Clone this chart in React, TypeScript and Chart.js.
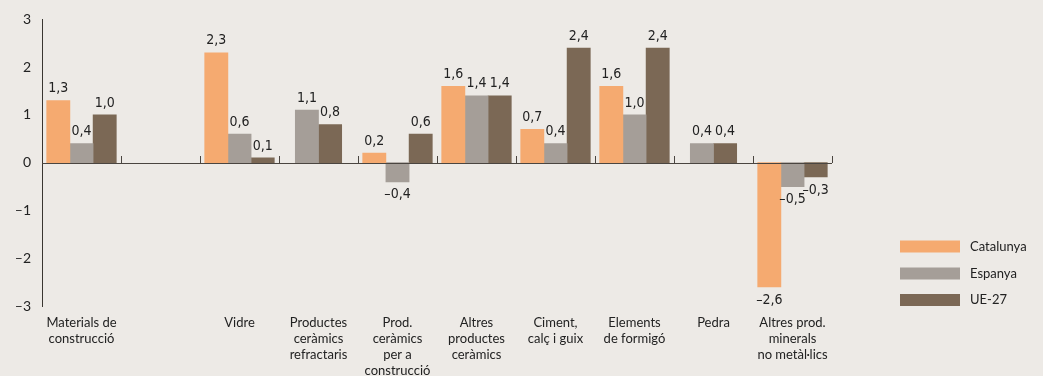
import React, { useEffect, useRef } from "react";
import { Chart, registerables } from "chart.js";
Chart.register(...registerables);

const categories: string[][] = [
  ["Materials de", "construcció"],
  [""],
  ["Vidre"],
  ["Productes", "ceràmics", "refractaris"],
  ["Prod.", "ceràmics", "per a", "construcció"],
  ["Altres", "productes", "ceràmics"],
  ["Ciment,", "calç i guix"],
  ["Elements", "de formigó"],
  ["Pedra"],
  ["Altres prod.", "minerals", "no metàl·lics"],
];
const catalunya = [1.3, null, 2.3, null, 0.2, 1.6, 0.7, 1.6, null, -2.6];
const espanya = [0.4, null, 0.6, 1.1, -0.4, 1.4, 0.4, 1.0, 0.4, -0.5];
const ue27 = [1.0, null, 0.1, 0.8, 0.6, 1.4, 2.4, 2.4, 0.4, -0.3];
const seriesNames = ["Catalunya", "Espanya", "UE-27"];
const seriesColors = ["#f5aa70", "#a59e98", "#7b6855"];

const fmt = (v: number) => v.toFixed(1).replace(".", ",").replace("-", "–");

const overlay = {
  id: "overlay",
  afterDatasetsDraw(chart: any) {
    const { ctx, chartArea, scales } = chart;
    const y0 = scales.y.getPixelForValue(0);
    ctx.save();
    ctx.strokeStyle = "#4a4540";
    ctx.lineWidth = 1;
    ctx.beginPath();
    ctx.moveTo(chartArea.left, Math.round(y0) + 0.5);
    ctx.lineTo(chartArea.right, Math.round(y0) + 0.5);
    const n = categories.length;
    const w = (chartArea.right - chartArea.left) / n;
    for (let i = 1; i <= n; i++) {
      const x = Math.round(chartArea.left + i * w) + 0.5;
      ctx.moveTo(x, Math.round(y0));
      ctx.lineTo(x, Math.round(y0) - 7);
    }
    ctx.stroke();

    ctx.fillStyle = "#222";
    ctx.font = "14px 'Liberation Sans Narrow', 'DejaVu Sans Condensed', Lato, sans-serif";
    ctx.textAlign = "center";
    chart.data.datasets.forEach((ds: any, di: number) => {
      const meta = chart.getDatasetMeta(di);
      meta.data.forEach((el: any, i: number) => {
        const v = ds.data[i];
        if (v === null || v === undefined) return;
        if (v >= 0) {
          ctx.textBaseline = "bottom";
          ctx.fillText(fmt(v), el.x, el.y - 5);
        } else {
          ctx.textBaseline = "top";
          ctx.fillText(fmt(v), el.x, el.y + 6);
        }
      });
    });

    // legend
    ctx.font = "13px Lato, sans-serif";
    ctx.textAlign = "left";
    ctx.textBaseline = "middle";
    const ys = [246.5, 273.5, 300];
    seriesNames.forEach((name, i) => {
      ctx.fillStyle = seriesColors[i];
      ctx.fillRect(900, ys[i] - 6, 60, 12);
      ctx.fillStyle = "#222";
      ctx.fillText(name, 970, ys[i]);
    });
    ctx.restore();
  },
};

export default function App() {
  const ref = useRef<HTMLCanvasElement>(null);
  useEffect(() => {
    document.body.style.margin = "0";
    const chart = new Chart(ref.current!, {
      type: "bar",
      data: {
        labels: categories as any,
        datasets: [
          { label: seriesNames[0], data: catalunya, backgroundColor: seriesColors[0] },
          { label: seriesNames[1], data: espanya, backgroundColor: seriesColors[1] },
          { label: seriesNames[2], data: ue27, backgroundColor: seriesColors[2] },
        ] as any,
      },
      options: {
        responsive: false,
        animation: false,
        layout: { padding: { left: 0, top: 19, right: 211, bottom: 0 } },
        datasets: { bar: { barThickness: 23.2, skipNull: true } },
        plugins: { legend: { display: false }, tooltip: { enabled: false } },
        scales: {
          x: {
            grid: { display: false, drawTicks: false },
            border: { display: false },
            ticks: {
              color: "#222",
              font: { family: "Lato", size: 13, lineHeight: 1.23 },
              padding: 9,
              maxRotation: 0,
              autoSkip: false,
            },
            afterFit: (s: any) => {
              s.height = 70;
            },
          },
          y: {
            min: -3,
            max: 3,
            grid: { display: false, drawTicks: false },
            border: { display: true, color: "#3a3631", width: 1 },
            ticks: {
              stepSize: 1,
              color: "#222",
              font: { family: "Lato", size: 14 },
              padding: 11,
              callback: (v: any) => String(v).replace("-", "–"),
            },
            afterFit: (s: any) => {
              s.width = 42;
            },
          },
        },
      } as any,
      plugins: [overlay],
    });
    return () => chart.destroy();
  }, []);
  return (
    <div style={{ width: 1043, height: 376, background: "#edeae6" }}>
      <canvas ref={ref} width={1043} height={376} />
    </div>
  );
}
